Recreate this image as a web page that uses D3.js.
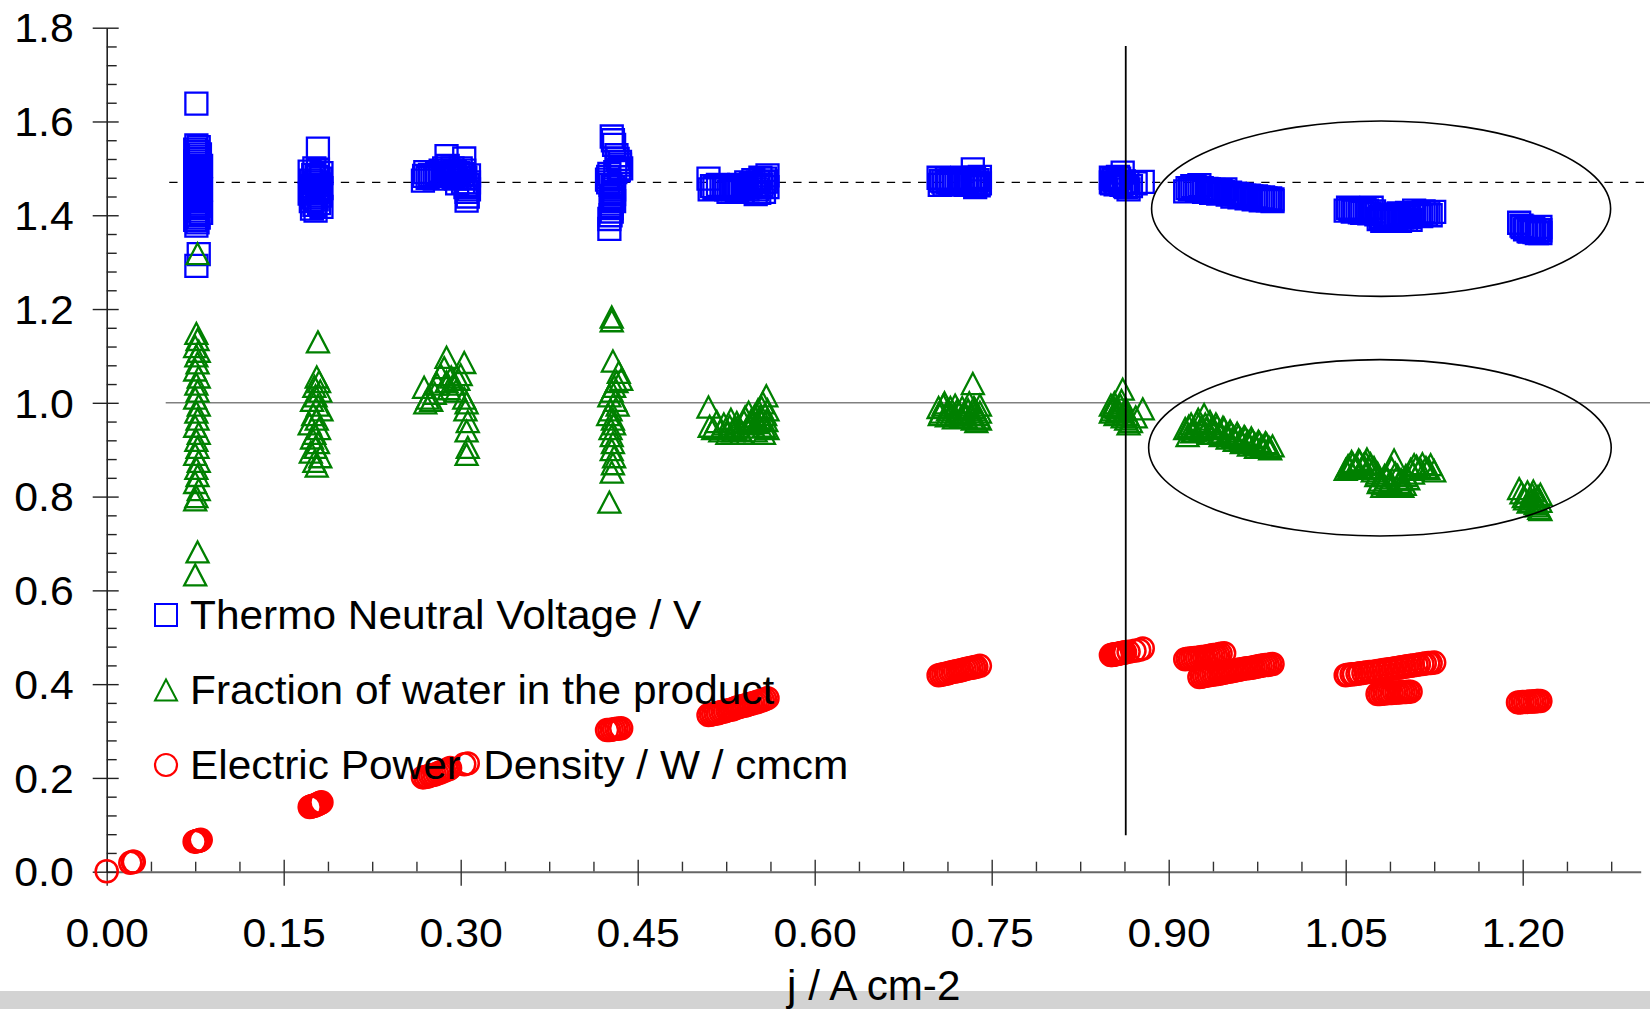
<!DOCTYPE html>
<html>
<head>
<meta charset="utf-8">
<script src="https://cdn.jsdelivr.net/npm/d3@7"></script>
<style>
  html, body { margin: 0; padding: 0; background: #fff; }
  svg { display: block; font-family: "Liberation Sans", Arial, Helvetica, sans-serif; }
</style>
</head>
<body>
<div id="chart"></div>
<script>
// tick labels
const xTicks = [0, 0.15, 0.30, 0.45, 0.60, 0.75, 0.90, 1.05, 1.20];
const yTicks = [0, 0.2, 0.4, 0.6, 0.8, 1.0, 1.2, 1.4, 1.6, 1.8];
const xTitle = 'j / A cm-2';
const legendLabels = ['Thermo Neutral Voltage / V', 'Fraction of water in the product', 'Electric Power Density / W / cmcm'];

// reference lines / annotations (data units)
const thermoNeutralRef = 1.47;
const unityRef = 1.0;
const limitJ = 0.8636;
const ellipseCenters = [[1.080, 1.414], [1.079, 0.904]];
const ellipseRadii = [[0.1945, 0.187], [0.196, 0.188]];

// [j, V]
const thermoNeutral = [
  [0.076,1.638],
  [0.076,1.549],[0.078,1.545],[0.075,1.540],[0.077,1.535],[0.079,1.530],[0.076,1.525],[0.078,1.520],[0.075,1.515],
  [0.077,1.510],[0.080,1.505],[0.076,1.500],[0.078,1.495],[0.075,1.490],[0.077,1.485],[0.079,1.480],[0.076,1.475],
  [0.078,1.470],[0.075,1.465],[0.077,1.460],[0.080,1.455],[0.076,1.450],[0.078,1.445],[0.075,1.440],[0.077,1.435],
  [0.079,1.430],[0.076,1.425],[0.078,1.420],[0.075,1.415],[0.077,1.410],[0.080,1.405],[0.076,1.400],[0.078,1.395],
  [0.075,1.390],[0.077,1.385],[0.076,1.378],[0.078,1.317],[0.076,1.292],
  [0.179,1.542],
  [0.176,1.500],[0.179,1.497],[0.172,1.493],[0.182,1.490],[0.175,1.486],[0.178,1.482],[0.181,1.478],[0.173,1.474],
  [0.177,1.470],[0.180,1.466],[0.174,1.462],[0.182,1.458],[0.176,1.454],[0.179,1.450],[0.172,1.446],[0.181,1.442],
  [0.175,1.438],[0.178,1.434],[0.173,1.430],[0.180,1.426],[0.176,1.422],[0.182,1.418],[0.174,1.414],[0.177,1.410],
  [0.268,1.474],[0.269,1.484],[0.270,1.492],[0.272,1.480],[0.274,1.486],[0.276,1.485],[0.278,1.478],[0.280,1.490],
  [0.282,1.484],[0.283,1.495],[0.285,1.490],[0.286,1.500],[0.288,1.526],[0.289,1.505],[0.290,1.495],[0.291,1.485],
  [0.292,1.488],[0.293,1.500],[0.294,1.482],[0.295,1.492],[0.296,1.478],[0.297,1.468],[0.298,1.490],[0.299,1.480],
  [0.300,1.500],[0.301,1.488],[0.302,1.470],[0.303,1.521],[0.303,1.495],[0.304,1.460],[0.304,1.480],[0.305,1.450],
  [0.306,1.440],[0.305,1.431],[0.306,1.465],[0.307,1.470],[0.307,1.485],[0.307,1.455],
  [0.428,1.568],[0.429,1.560],[0.430,1.550],[0.432,1.528],[0.433,1.520],[0.435,1.514],[0.435,1.508],[0.436,1.500],
  [0.434,1.496],[0.431,1.492],[0.426,1.488],[0.425,1.482],[0.424,1.476],[0.425,1.470],[0.427,1.465],[0.429,1.460],
  [0.430,1.455],[0.429,1.450],[0.430,1.445],[0.428,1.440],[0.429,1.435],[0.430,1.430],[0.428,1.425],[0.427,1.420],
  [0.428,1.415],[0.428,1.408],[0.427,1.400],[0.426,1.392],[0.426,1.371],
  [0.510,1.478],[0.511,1.455],[0.513,1.462],[0.515,1.458],[0.518,1.465],[0.521,1.458],[0.523,1.462],[0.525,1.455],
  [0.527,1.450],[0.529,1.458],[0.531,1.455],[0.533,1.460],[0.534,1.452],[0.536,1.465],[0.537,1.458],[0.539,1.450],
  [0.540,1.462],[0.542,1.470],[0.543,1.455],[0.545,1.460],[0.546,1.468],[0.548,1.475],[0.549,1.462],[0.551,1.455],
  [0.552,1.470],[0.554,1.480],[0.555,1.465],[0.557,1.470],[0.558,1.478],[0.560,1.485],[0.560,1.460],[0.559,1.472],
  [0.557,1.450],[0.553,1.448],[0.550,1.445],
  [0.705,1.480],[0.706,1.465],[0.707,1.474],[0.709,1.472],[0.710,1.466],[0.712,1.478],[0.713,1.470],[0.715,1.468],
  [0.716,1.476],[0.718,1.475],[0.720,1.466],[0.722,1.470],[0.723,1.478],[0.725,1.480],[0.726,1.470],[0.728,1.465],
  [0.729,1.474],[0.731,1.475],[0.732,1.466],[0.734,1.498],[0.734,1.470],[0.735,1.480],[0.736,1.460],[0.737,1.470],
  [0.738,1.475],[0.739,1.464],[0.740,1.468],[0.740,1.482],
  [0.851,1.480],[0.851,1.470],[0.852,1.468],[0.853,1.477],[0.854,1.475],[0.855,1.466],[0.856,1.470],[0.857,1.482],
  [0.858,1.478],[0.859,1.470],[0.860,1.465],[0.861,1.491],[0.862,1.472],[0.863,1.462],[0.864,1.460],[0.865,1.470],
  [0.866,1.455],[0.868,1.462],[0.872,1.468],[0.878,1.471],
  [0.914,1.451],[0.916,1.458],[0.918,1.455],[0.920,1.462],[0.922,1.460],[0.924,1.452],[0.926,1.464],[0.928,1.458],
  [0.930,1.450],[0.932,1.456],[0.934,1.455],[0.936,1.448],[0.938,1.454],[0.940,1.452],[0.942,1.446],[0.944,1.452],
  [0.946,1.450],[0.948,1.455],[0.950,1.444],[0.952,1.448],[0.954,1.440],[0.956,1.446],[0.958,1.445],[0.960,1.438],
  [0.962,1.444],[0.964,1.442],[0.966,1.436],[0.968,1.442],[0.970,1.440],[0.972,1.434],[0.974,1.440],[0.976,1.438],
  [0.978,1.432],[0.980,1.438],[0.982,1.436],[0.984,1.432],[0.986,1.436],[0.988,1.434],[0.988,1.430],
  [1.050,1.410],[1.052,1.416],[1.054,1.412],[1.056,1.408],[1.058,1.414],[1.060,1.412],[1.062,1.406],[1.064,1.405],
  [1.066,1.412],[1.068,1.410],[1.070,1.404],[1.072,1.416],[1.074,1.408],[1.076,1.402],[1.078,1.392],[1.080,1.396],
  [1.081,1.388],[1.083,1.400],[1.084,1.395],[1.086,1.392],[1.087,1.390],[1.089,1.398],[1.090,1.400],[1.092,1.388],
  [1.093,1.392],[1.095,1.404],[1.096,1.388],[1.098,1.395],[1.099,1.398],[1.101,1.390],[1.102,1.405],[1.104,1.396],
  [1.105,1.390],[1.107,1.402],[1.108,1.410],[1.110,1.400],[1.112,1.405],[1.114,1.398],[1.116,1.408],[1.118,1.402],
  [1.120,1.406],[1.122,1.400],[1.125,1.407],
  [1.197,1.384],[1.199,1.378],[1.200,1.375],[1.202,1.370],[1.203,1.372],[1.205,1.366],[1.206,1.365],[1.208,1.370],
  [1.209,1.372],[1.210,1.364],[1.212,1.362],[1.213,1.368],[1.214,1.368],[1.215,1.362],[1.215,1.375],[1.215,1.368]
];

// [j, fraction]
const waterFraction = [
  [0.077,1.318],[0.076,1.148],[0.077,1.135],[0.075,1.120],[0.078,1.110],[0.076,1.100],[0.077,1.085],[0.075,1.070],
  [0.078,1.055],[0.076,1.040],[0.077,1.025],[0.075,1.010],[0.078,0.995],[0.076,0.980],[0.077,0.965],[0.075,0.950],
  [0.078,0.935],[0.076,0.920],[0.077,0.905],[0.075,0.890],[0.078,0.875],[0.076,0.860],[0.077,0.845],[0.075,0.830],
  [0.078,0.815],[0.076,0.800],[0.075,0.793],[0.077,0.682],[0.075,0.633],
  [0.179,1.130],[0.178,1.055],[0.180,1.045],[0.176,1.035],[0.181,1.025],[0.177,1.015],[0.174,1.005],[0.179,0.995],
  [0.182,0.985],[0.175,0.975],[0.178,0.965],[0.172,0.955],[0.180,0.945],[0.176,0.935],[0.174,0.925],[0.179,0.915],
  [0.177,0.905],[0.173,0.895],[0.181,0.885],[0.176,0.875],[0.178,0.865],
  [0.269,1.033],[0.270,1.000],[0.272,1.010],[0.275,1.005],[0.278,1.020],[0.280,1.040],[0.283,1.060],[0.286,1.075],
  [0.288,1.097],[0.288,1.045],[0.290,1.030],[0.292,1.055],[0.294,1.040],[0.296,1.025],[0.298,1.050],[0.300,1.060],
  [0.303,1.086],[0.303,1.010],[0.305,1.000],[0.304,0.985],[0.306,0.960],[0.305,0.940],[0.306,0.905],[0.305,0.890],
  [0.428,1.183],[0.428,1.175],[0.429,1.089],[0.434,1.065],[0.436,1.050],[0.432,1.045],[0.430,1.035],[0.428,1.025],
  [0.426,1.015],[0.431,1.005],[0.433,0.995],[0.427,0.985],[0.425,0.975],[0.429,0.965],[0.430,0.955],[0.427,0.945],
  [0.428,0.930],[0.429,0.915],[0.428,0.900],[0.430,0.885],[0.429,0.870],[0.428,0.852],[0.426,0.788],
  [0.510,0.991],[0.511,0.950],[0.514,0.945],[0.517,0.960],[0.520,0.940],[0.523,0.955],[0.526,0.935],[0.528,0.950],
  [0.529,0.965],[0.531,0.940],[0.532,0.945],[0.534,0.958],[0.535,0.950],[0.537,0.942],[0.538,0.935],[0.540,0.960],
  [0.541,0.970],[0.543,0.948],[0.544,0.980],[0.546,0.962],[0.547,0.955],[0.549,0.972],[0.550,0.940],[0.551,0.958],
  [0.552,0.985],[0.553,0.968],[0.554,0.965],[0.555,0.990],[0.556,1.000],[0.557,0.950],[0.558,0.975],[0.559,1.015],
  [0.559,0.962],[0.560,0.945],[0.560,0.985],[0.557,0.935],
  [0.705,0.990],[0.706,0.975],[0.707,0.980],[0.709,0.995],[0.710,1.000],[0.712,0.972],[0.713,0.985],[0.715,0.990],
  [0.716,0.975],[0.718,0.968],[0.719,0.995],[0.721,0.985],[0.722,0.980],[0.724,0.970],[0.725,0.990],[0.727,0.978],
  [0.728,0.970],[0.730,0.985],[0.731,1.000],[0.733,0.975],[0.734,1.041],[0.734,0.965],[0.735,0.990],[0.736,0.985],
  [0.737,0.960],[0.738,0.975],[0.739,0.968],[0.740,0.995],[0.740,0.965],[0.740,0.980],
  [0.851,0.995],[0.851,0.980],[0.852,0.985],[0.853,0.992],[0.854,1.000],[0.855,0.975],[0.856,0.990],[0.857,0.982],
  [0.858,0.980],[0.859,0.995],[0.860,1.005],[0.861,1.029],[0.861,0.970],[0.862,0.975],[0.863,0.985],[0.864,0.965],
  [0.865,0.975],[0.866,0.955],[0.868,0.960],[0.872,0.970],[0.878,0.987],
  [0.914,0.945],[0.916,0.930],[0.917,0.950],[0.919,0.955],[0.920,0.938],[0.922,0.940],[0.924,0.958],[0.925,0.965],
  [0.927,0.942],[0.928,0.950],[0.930,0.975],[0.931,0.955],[0.932,0.945],[0.934,0.935],[0.935,0.960],[0.937,0.948],
  [0.938,0.935],[0.940,0.955],[0.941,0.950],[0.943,0.938],[0.944,0.930],[0.946,0.948],[0.947,0.945],[0.949,0.932],
  [0.950,0.925],[0.952,0.940],[0.953,0.935],[0.955,0.928],[0.956,0.920],[0.958,0.935],[0.959,0.930],[0.961,0.922],
  [0.962,0.915],[0.964,0.928],[0.965,0.925],[0.967,0.918],[0.968,0.910],[0.970,0.925],[0.971,0.920],[0.973,0.912],
  [0.974,0.905],[0.976,0.918],[0.977,0.915],[0.979,0.908],[0.980,0.905],[0.982,0.915],[0.983,0.912],[0.985,0.905],
  [0.986,0.902],[0.988,0.908],
  [1.050,0.858],[1.052,0.866],[1.053,0.862],[1.055,0.875],[1.056,0.870],[1.058,0.860],[1.059,0.865],[1.061,0.878],
  [1.062,0.875],[1.064,0.862],[1.065,0.868],[1.067,0.872],[1.068,0.880],[1.070,0.860],[1.071,0.870],[1.073,0.855],
  [1.074,0.862],[1.076,0.845],[1.077,0.850],[1.078,0.830],[1.079,0.835],[1.081,0.822],[1.082,0.828],[1.083,0.845],
  [1.085,0.840],[1.086,0.825],[1.088,0.832],[1.089,0.860],[1.091,0.878],[1.092,0.850],[1.094,0.845],[1.095,0.830],
  [1.097,0.836],[1.098,0.822],[1.100,0.826],[1.101,0.845],[1.103,0.838],[1.105,0.858],[1.107,0.850],[1.108,0.868],
  [1.110,0.865],[1.113,0.860],[1.115,0.870],[1.118,0.862],[1.120,0.860],[1.122,0.868],[1.125,0.855],
  [1.197,0.817],[1.199,0.808],[1.201,0.800],[1.202,0.795],[1.204,0.810],[1.205,0.788],[1.207,0.790],[1.208,0.805],
  [1.209,0.812],[1.210,0.795],[1.211,0.785],[1.212,0.780],[1.213,0.800],[1.214,0.775],[1.215,0.790],[1.215,0.772],
  [1.215,0.805]
];

// [j, P]
const powerDensity = [
  [0.000,0.001],[0.020,0.019],[0.022,0.021],[0.023,0.021],
  [0.0745,0.064],[0.0752,0.0645],[0.076,0.065],[0.0768,0.0655],[0.0775,0.066],[0.0782,0.0665],[0.079,0.067],[0.0797,0.068],
  [0.172,0.138],[0.173,0.139],[0.174,0.140],[0.175,0.140],[0.176,0.141],[0.177,0.142],[0.178,0.143],[0.179,0.144],
  [0.180,0.146],[0.181,0.147],[0.182,0.148],
  [0.268,0.201],[0.270,0.202],[0.272,0.203],[0.274,0.205],[0.276,0.206],[0.278,0.207],[0.280,0.209],[0.282,0.211],
  [0.284,0.213],[0.286,0.215],[0.288,0.217],[0.290,0.219],[0.291,0.221],[0.303,0.229],[0.306,0.231],
  [0.424,0.302],[0.426,0.302],[0.428,0.303],[0.430,0.304],[0.432,0.305],[0.434,0.305],[0.436,0.306],
  [0.510,0.334],[0.512,0.335],[0.514,0.336],[0.516,0.337],[0.518,0.338],[0.520,0.340],[0.522,0.341],[0.524,0.342],
  [0.526,0.344],[0.528,0.345],[0.530,0.346],[0.532,0.348],[0.534,0.350],[0.536,0.351],[0.538,0.353],[0.540,0.354],
  [0.542,0.355],[0.544,0.357],[0.546,0.358],[0.548,0.360],[0.550,0.361],[0.552,0.363],[0.554,0.364],[0.556,0.366],
  [0.558,0.368],[0.560,0.370],
  [0.705,0.419],[0.707,0.420],[0.709,0.421],[0.711,0.422],[0.713,0.423],[0.715,0.425],[0.717,0.426],[0.719,0.427],
  [0.721,0.428],[0.723,0.429],[0.725,0.430],[0.727,0.432],[0.729,0.433],[0.731,0.434],[0.733,0.435],[0.735,0.436],
  [0.737,0.437],[0.740,0.439],
  [0.851,0.462],[0.852,0.462],[0.853,0.463],[0.854,0.463],[0.855,0.464],[0.856,0.464],[0.857,0.465],[0.858,0.465],
  [0.859,0.466],[0.860,0.466],[0.861,0.467],[0.862,0.467],[0.863,0.468],[0.866,0.469],[0.871,0.471],[0.875,0.473],
  [0.878,0.476],
  [0.914,0.453],[0.916,0.454],[0.918,0.454],[0.920,0.455],[0.922,0.456],[0.924,0.456],[0.926,0.457],[0.928,0.458],
  [0.930,0.458],[0.932,0.459],[0.934,0.460],[0.936,0.461],[0.938,0.462],[0.940,0.462],[0.942,0.463],[0.944,0.465],
  [0.947,0.466],
  [0.926,0.415],[0.928,0.416],[0.930,0.417],[0.932,0.418],[0.934,0.419],[0.936,0.420],[0.938,0.421],[0.940,0.421],
  [0.942,0.422],[0.944,0.423],[0.946,0.424],[0.948,0.425],[0.950,0.426],[0.952,0.427],[0.954,0.428],[0.956,0.429],
  [0.958,0.430],[0.960,0.431],[0.962,0.432],[0.964,0.433],[0.966,0.434],[0.968,0.434],[0.970,0.435],[0.972,0.436],
  [0.974,0.437],[0.976,0.438],[0.978,0.439],[0.980,0.440],[0.982,0.441],[0.984,0.441],[0.986,0.442],[0.988,0.443],
  [1.050,0.419],[1.052,0.420],[1.055,0.421],[1.057,0.421],[1.060,0.422],[1.062,0.423],[1.065,0.424],[1.067,0.425],
  [1.070,0.426],[1.072,0.426],[1.075,0.427],[1.077,0.428],[1.080,0.429],[1.082,0.430],[1.085,0.431],[1.087,0.432],
  [1.090,0.433],[1.092,0.434],[1.095,0.435],[1.097,0.436],[1.100,0.437],[1.102,0.438],[1.105,0.439],[1.107,0.440],
  [1.110,0.441],[1.112,0.442],[1.115,0.443],[1.117,0.444],[1.120,0.445],[1.122,0.445],[1.125,0.446],
  [1.077,0.379],[1.079,0.379],[1.081,0.380],[1.083,0.380],[1.085,0.381],[1.087,0.381],[1.089,0.381],[1.091,0.382],
  [1.093,0.382],[1.095,0.382],[1.097,0.383],[1.099,0.383],[1.101,0.383],[1.103,0.384],[1.105,0.384],
  [1.196,0.361],[1.198,0.361],[1.200,0.362],[1.202,0.362],[1.204,0.362],[1.206,0.363],[1.208,0.363],[1.210,0.363],
  [1.212,0.364],[1.213,0.364],[1.215,0.364]
];

const W = 1650, H = 1009;
const FONT = 40, STRETCH = 1.07;

const x = d3.scaleLinear().domain([0, 1.3]).range([106.7, 1640.7]);
const y = d3.scaleLinear().domain([0, 1.8]).range([871.7, 27.7]);

const svg = d3.select('#chart').append('svg')
  .attr('width', W)
  .attr('height', H)
  .attr('viewBox', `0 0 ${W} ${H}`);

svg.append('rect').attr('width', W).attr('height', H).attr('fill', '#fff');
// grey strip at the bottom edge
svg.append('rect').attr('x', 0).attr('y', 991).attr('width', W).attr('height', H - 991).attr('fill', '#d3d3d3');

// horizontal reference lines (below the marks)
svg.append('line')
  .attr('x1', x(0.053)).attr('x2', W)
  .attr('y1', y(thermoNeutralRef)).attr('y2', y(thermoNeutralRef))
  .attr('stroke', '#000').attr('stroke-width', 1.3)
  .attr('stroke-dasharray', '8.3 7.3');

svg.append('line')
  .attr('x1', x(0.05)).attr('x2', W)
  .attr('y1', y(unityRef)).attr('y2', y(unityRef))
  .attr('stroke', '#808080').attr('stroke-width', 1.6);

// axes
const xAxis = g => g
  .attr('transform', `translate(0,${y(0)})`)
  .call(d3.axisBottom(x).tickValues(xTicks).tickFormat(d3.format('.2f')).tickSizeOuter(0))
  .call(g => g.select('.domain').attr('stroke', '#666').attr('stroke-width', 2))
  .call(g => g.selectAll('.tick line').attr('y1', -12).attr('y2', 14).attr('stroke', '#333').attr('stroke-width', 1.4))
  .call(g => g.selectAll('.tick text')
    .attr('y', null).attr('dy', null)
    .attr('transform', `translate(0,75) scale(${STRETCH},1)`)
    .attr('font-size', FONT).attr('fill', '#000'));

const xMinor = g => g
  .attr('transform', `translate(0,${y(0)})`)
  .call(d3.axisBottom(x).tickValues(d3.range(0, 1.29, 0.0375).filter(v => Math.abs(v / 0.15 - Math.round(v / 0.15)) > 1e-6)).tickSize(-10).tickFormat(''))
  .call(g => g.select('.domain').remove())
  .call(g => g.selectAll('.tick line').attr('stroke', '#333').attr('stroke-width', 1.4));

const yAxis = g => g
  .attr('transform', `translate(${x(0)},0)`)
  .call(d3.axisLeft(y).tickValues(yTicks).tickFormat(d3.format('.1f')).tickSizeOuter(0))
  .call(g => g.select('.domain').attr('stroke', '#222').attr('stroke-width', 1.6))
  .call(g => g.selectAll('.tick line').attr('x1', -14).attr('x2', 12).attr('stroke', '#222').attr('stroke-width', 1.4))
  .call(g => g.selectAll('.tick text')
    .attr('x', null).attr('dy', null)
    .attr('transform', `translate(-33,14.2) scale(${STRETCH},1)`)
    .attr('font-size', FONT).attr('fill', '#000'));

const yMinor = g => g
  .attr('transform', `translate(${x(0)},0)`)
  .call(d3.axisLeft(y).tickValues(d3.range(0, 1.801, 0.04).filter(v => Math.abs(v / 0.2 - Math.round(v / 0.2)) > 1e-6)).tickSize(-10).tickFormat(''))
  .call(g => g.select('.domain').remove())
  .call(g => g.selectAll('.tick line').attr('stroke', '#222').attr('stroke-width', 1.4));

svg.append('g').call(xMinor);
svg.append('g').call(yMinor);
svg.append('g').call(xAxis);
svg.append('g').call(yAxis);

svg.selectAll('.tick text').attr('font-family', '"Liberation Sans", Arial, sans-serif');

// x axis title
svg.append('text')
  .attr('transform', `translate(${(x.range()[0] + x.range()[1]) / 2},1000) scale(0.98,1)`)
  .attr('text-anchor', 'middle')
  .attr('font-size', 43)
  .text(xTitle);

// marks
const squarePath = 'M-11,-11H11V11H-11Z';
const trianglePath = 'M0,-10.5L11,10.5H-11Z';

svg.append('g')
  .attr('fill', 'none').attr('stroke', '#0000ff').attr('stroke-width', 2.3)
  .selectAll('path')
  .data(thermoNeutral)
  .join('path')
  .attr('transform', d => `translate(${x(d[0])},${y(d[1])})`)
  .attr('d', squarePath);

svg.append('g')
  .attr('fill', 'none').attr('stroke', '#008000').attr('stroke-width', 2.3)
  .selectAll('path')
  .data(waterFraction)
  .join('path')
  .attr('transform', d => `translate(${x(d[0])},${y(d[1])})`)
  .attr('d', trianglePath);

svg.append('g')
  .attr('fill', 'none').attr('stroke', '#ff0000').attr('stroke-width', 2.5)
  .selectAll('circle')
  .data(powerDensity)
  .join('circle')
  .attr('cx', d => x(d[0]))
  .attr('cy', d => y(d[1]))
  .attr('r', 11);

// vertical marker and ellipses (on top)
svg.append('line')
  .attr('x1', x(limitJ)).attr('x2', x(limitJ))
  .attr('y1', y(1.761)).attr('y2', y(0.078))
  .attr('stroke', '#000').attr('stroke-width', 1.8);

svg.append('g')
  .selectAll('ellipse')
  .data(ellipseCenters)
  .join('ellipse')
  .attr('cx', d => x(d[0]))
  .attr('cy', d => y(d[1]))
  .attr('rx', (d, i) => x(ellipseRadii[i][0]) - x(0))
  .attr('ry', (d, i) => y(0) - y(ellipseRadii[i][1]))
  .attr('fill', 'none').attr('stroke', '#000').attr('stroke-width', 1.6);

// legend
const legendShapes = [
  { d: squarePath, color: '#0000ff' },
  { d: trianglePath, color: '#008000' },
  { d: null, color: '#ff0000' }
];
const legend = svg.append('g')
  .selectAll('g')
  .data(legendLabels)
  .join('g')
  .attr('transform', (d, i) => `translate(166,${615 + i * 75})`);

legend.each(function (d, i) {
  const g = d3.select(this);
  const s = legendShapes[i];
  if (s.d) {
    g.append('path').attr('d', s.d).attr('fill', 'none').attr('stroke', s.color).attr('stroke-width', 2);
  } else {
    g.append('circle').attr('r', 11).attr('fill', 'none').attr('stroke', s.color).attr('stroke-width', 2.2);
  }
  const t = g.append('text')
    .attr('transform', `translate(24,13.5) scale(${STRETCH - 0.01},1)`)
    .attr('font-size', FONT)
    .attr('fill', '#000');
  // the last label has a wider gap before "Density" in the original
  const k = d.indexOf(' Density');
  if (k > 0) {
    t.append('tspan').text(d.slice(0, k));
    t.append('tspan').attr('dx', 10).text(d.slice(k));
  } else {
    t.text(d);
  }
});
</script>
</body>
</html>
